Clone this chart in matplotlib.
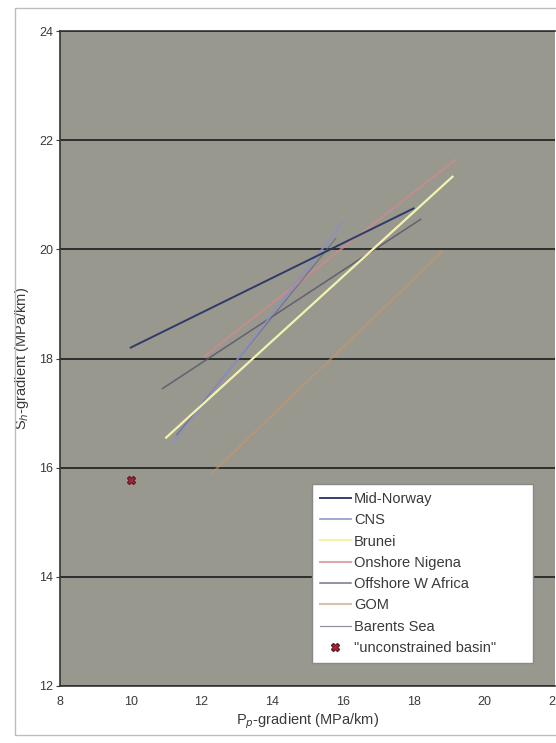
import matplotlib
matplotlib.use("Agg")
import matplotlib.pyplot as plt
from matplotlib.patches import Rectangle

plt.rcParams['font.family'] = ['Liberation Sans', 'DejaVu Sans']

# basin trends: end points (Pp-gradient, Sh-gradient), MPa/km
basins = ["Mid-Norway", "CNS", "Brunei", "Onshore Nigena",
          "Offshore W Africa", "GOM", "Barents Sea"]
pp_start = [10.0, 11.2, 11.0, 12.1, 10.9, 12.3, 11.3]
pp_end = [18.0, 16.0, 19.1, 19.2, 18.2, 18.8, 15.8]
sh_start = [18.2, 16.45, 16.55, 18.05, 17.45, 15.9, 16.6]
sh_end = [20.75, 20.5, 21.33, 21.65, 20.55, 19.95, 20.2]
colors = ["#2b3566", "#8c8fc8", "#f4f2b0", "#cf8a8e",
          "#55526a", "#c9966e", "#62677a"]
widths = [1.4, 1.3, 1.6, 1.5, 1.1, 1.5, 0.9]
alphas = [0.95, 0.85, 1.0, 0.75, 0.8, 0.6, 0.7]
zorders = [5, 4, 6, 3, 3, 2, 3]

# single point
unconstrained_pp = [10.0]
unconstrained_sh = [15.78]

fig = plt.figure(figsize=(5.56, 7.43), dpi=100)
fig.patches.append(Rectangle((15 / 556, 8 / 743), 1.0, 727 / 743,
                             transform=fig.transFigure, fill=False,
                             edgecolor="#bdbdbd", linewidth=1.0))

ax = fig.add_axes([60 / 556, 57 / 743, 495 / 556, 655 / 743])
ax.set_facecolor("#98988f")

for i, name in enumerate(basins):
    ax.plot([pp_start[i], pp_end[i]], [sh_start[i], sh_end[i]],
            color=colors[i], lw=widths[i], alpha=alphas[i], label=name,
            zorder=zorders[i])

ax.plot(unconstrained_pp, unconstrained_sh, ls="none", marker="X",
        ms=6, color="#a8283c", markeredgecolor="#6a1a28",
        label='"unconstrained basin"', zorder=7)

ax.set_xlim(8, 22)
ax.set_ylim(12, 24)
ax.set_xticks(range(8, 23, 2))
ax.set_yticks(range(12, 25, 2))
ax.yaxis.grid(True, color="#2e2e2e", lw=1.4)
ax.set_axisbelow(True)
ax.tick_params(axis="both", labelsize=9, colors="#3a3a3a", length=3, width=0.8)
ax.tick_params(axis="x", length=0, pad=7)
ax.tick_params(axis="y", pad=2)
for s in ["left", "top", "bottom"]:
    ax.spines[s].set_color("#333333")
    ax.spines[s].set_linewidth(1.2)
ax.spines["right"].set_visible(False)

ax.set_xlabel("P$_p$-gradient (MPa/km)", fontsize=10.5, color="#3a3a3a", labelpad=3)
ax.set_ylabel("S$_h$-gradient (MPa/km)", fontsize=10.5, color="#3a3a3a", labelpad=6)

leg = ax.legend(loc="lower left", bbox_to_anchor=(0.509, 0.035, 0.446, 0.275),
                mode="expand", fontsize=10.5,
                frameon=True, fancybox=False, framealpha=1.0,
                edgecolor="#888888", facecolor="white", labelspacing=0.5,
                handlelength=2.1, handletextpad=0.25, borderpad=0.55,
                borderaxespad=0)
leg._legend_box.align = "left"
for t in leg.get_texts():
    t.set_color("#3a3a3a")

fig.savefig("out.png", dpi=100)
